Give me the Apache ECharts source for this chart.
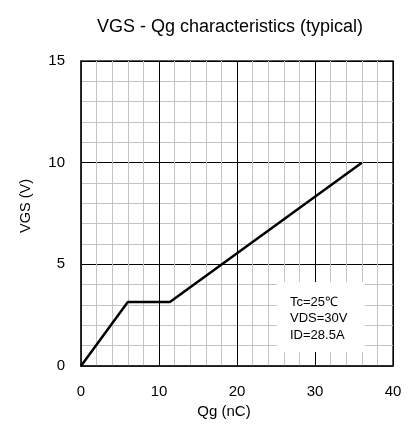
<!DOCTYPE html>
<html><head><meta charset="utf-8">
<script src="https://cdn.jsdelivr.net/npm/echarts@6/dist/echarts.min.js"></script>
<style>html,body{margin:0;padding:0;background:#fff}#c{width:414px;height:439px}</style>
</head><body><div id="c"></div>
<script>
const qg = [0, 6.0, 11.4, 36.0];
const vgs = [0, 3.15, 3.15, 10.0];
const xTicks = [0, 10, 20, 30, 40];
const yTicks = [0, 5, 10, 15];
const noteLines = ['Tc=25\u2103', 'VDS=30V', 'ID=28.5A'];

const chart = echarts.init(document.getElementById('c'), null, {renderer: 'canvas'});
const F = 'Liberation Sans, Arial, sans-serif';
chart.setOption({
  animation: false,
  title: {text: 'VGS - Qg characteristics (typical)', left: 225, top: 13, textAlign: 'center',
    textStyle: {fontFamily: F, fontSize: 18, fontWeight: 'normal', color: '#000'}},
  grid: {left: 81, top: 61, width: 312, height: 305, show: true, borderColor: '#222', borderWidth: 1.5, containLabel: false},
  xAxis: {type: 'value', min: xTicks[0], max: xTicks[xTicks.length-1], interval: 10,
    name: 'Qg (nC)', nameLocation: 'middle', nameGap: 38,
    nameTextStyle: {fontFamily: F, fontSize: 15, color: '#000', padding: [0, 26, 0, 0]},
    axisLine: {show: true, lineStyle: {color: '#222', width: 1.5}}, axisTick: {show: false},
    axisLabel: {fontFamily: F, fontSize: 15, color: '#000', margin: 18},
    splitLine: {show: true, lineStyle: {color: '#000', width: 1}},
    minorTick: {show: false, splitNumber: 5},
    minorSplitLine: {show: true, lineStyle: {color: '#c4c4c4', width: 1}}},
  yAxis: {type: 'value', min: yTicks[0], max: yTicks[yTicks.length-1], interval: 5,
    name: 'VGS (V)', nameLocation: 'middle', nameGap: 48, nameRotate: 90,
    nameTextStyle: {fontFamily: F, fontSize: 14.5, color: '#000', padding: [0, 0, 0, 15]},
    axisLine: {show: true, lineStyle: {color: '#222', width: 1.5}}, axisTick: {show: false},
    axisLabel: {fontFamily: F, fontSize: 15, color: '#000', margin: 16},
    splitLine: {show: true, lineStyle: {color: '#000', width: 1}},
    minorTick: {show: false, splitNumber: 5},
    minorSplitLine: {show: true, lineStyle: {color: '#c4c4c4', width: 1}}},
  series: [{type: 'line', data: qg.map((x, i) => [x, vgs[i]]), symbol: 'none',
    lineStyle: {color: '#000', width: 2.5}, z: 5}],
  graphic: [
    {type: 'rect', shape: {x: 277, y: 282, width: 88, height: 70}, style: {fill: '#fff'}, z: 10},
    {type: 'text', left: 290, top: 294, z: 11,
      style: {text: noteLines.join('\n'), font: '13px ' + F, fill: '#000', lineHeight: 16.5}}
  ]
});
</script></body></html>
